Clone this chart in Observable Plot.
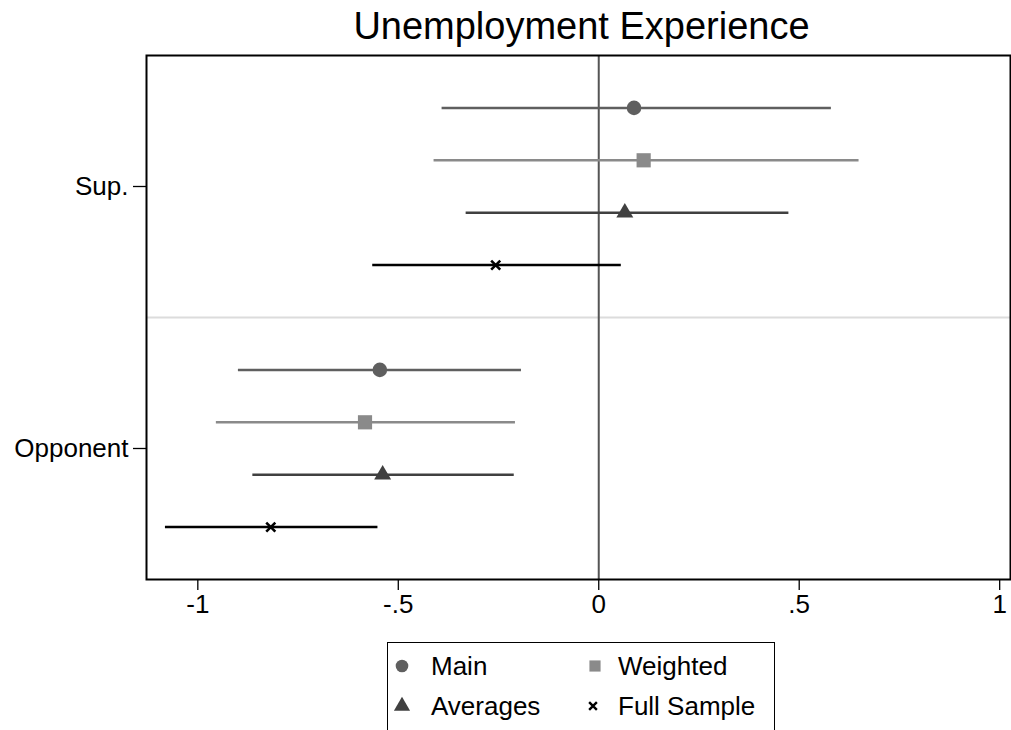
<!DOCTYPE html>
<html>
<head>
<meta charset="utf-8">
<script src="https://cdn.jsdelivr.net/npm/d3@7"></script>
<script src="https://cdn.jsdelivr.net/npm/@observablehq/plot@0.6"></script>
<style>
  html, body { margin: 0; padding: 0; background: #fff; }
  body { width: 1011px; height: 730px; position: relative; overflow: hidden; font-family: "Liberation Sans", Arial, sans-serif; }
  #title { position: absolute; top: 6px; left: 146px; width: 871px; text-align: center; font-size: 38px; color: #000; line-height: 40px; white-space: nowrap; }
  #chart { position: absolute; top: 0; left: 0; }
  #legend { position: absolute; left: 387px; top: 642px; width: 388px; height: 100px; border: 1px solid #000; box-sizing: border-box; }
  .sym { position: absolute; }
  .lab { position: absolute; font-size: 26px; line-height: 30px; color: #000; white-space: nowrap; }
</style>
</head>
<body>
<div id="title">Unemployment Experience</div>
<div id="chart"></div>
<div id="legend"></div>
<script>
// ---- data ----
const groups = ["Sup.", "Opponent"];
const series = ["Main", "Weighted", "Averages", "Full Sample"];
const supEst = [0.088, 0.112, 0.065, -0.257];
const supLo  = [-0.392, -0.412, -0.332, -0.565];
const supHi  = [0.579, 0.648, 0.473, 0.055];
const oppEst = [-0.546, -0.583, -0.539, -0.818];
const oppLo  = [-0.900, -0.955, -0.864, -1.082];
const oppHi  = [-0.194, -0.209, -0.212, -0.552];
const xTicks = [-1, -0.5, 0, 0.5, 1];
const xTickLabels = ["-1", "-.5", "0", ".5", "1"];

// ---- styles ----
const seriesColor = ["#5f5f5f", "#8a8a8a", "#404040", "#000000"];
const seriesSymbol = ["circle", "square", "triangle", "times"];
const seriesR = [7.3, 8, 6.3, 4.2];

// build rows: Sup rows at 0..3, Opponent rows at 5..8 (separator at 4)
const rows = [];
const est = [supEst, oppEst], lo = [supLo, oppLo], hi = [supHi, oppHi];
groups.forEach((g, gi) => {
  series.forEach((s, si) => {
    rows.push({group: g, series: s, si, pos: gi * 5 + si, est: est[gi][si], lo: lo[gi][si], hi: hi[gi][si]});
  });
});
const groupPos = [1.5, 6.5];

const font = "Liberation Sans, Arial, sans-serif";
const marks = [
  Plot.ruleY([4], {stroke: "#dcdcdc", strokeWidth: 2}),
  Plot.ruleX([0], {stroke: "#555", strokeWidth: 2}),
];
series.forEach((s, si) => {
  const d = rows.filter(r => r.si === si);
  marks.push(Plot.link(d, {x1: "lo", x2: "hi", y1: "pos", y2: "pos", stroke: seriesColor[si], strokeWidth: 2.5}));
});
series.forEach((s, si) => {
  const d = rows.filter(r => r.si === si);
  if (seriesSymbol[si] === "times") {
    marks.push(Plot.dot(d, {x: "est", y: "pos", symbol: "times", r: seriesR[si], stroke: seriesColor[si], strokeWidth: 2.6}));
  } else {
    marks.push(Plot.dot(d, {x: "est", y: "pos", symbol: seriesSymbol[si], r: seriesR[si], fill: seriesColor[si], stroke: "none"}));
  }
});
marks.push(
  Plot.axisX({ticks: xTicks, tickFormat: (d) => xTickLabels[xTicks.indexOf(d)], tickSize: 11, tickPadding: 4, fontSize: 26, stroke: "#000", strokeWidth: 1.3, label: null}),
  Plot.axisY({ticks: groupPos, tickFormat: (d) => groups[groupPos.indexOf(d)], tickSize: 13, tickPadding: 5, fontSize: 26, stroke: "#000", strokeWidth: 1.3, label: null}),
  Plot.frame({stroke: "#000", strokeWidth: 2})
);

const chart = Plot.plot({
  width: 1011,
  height: 640,
  marginTop: 55,
  marginLeft: 146,
  marginRight: 1,
  marginBottom: 61,
  style: {fontFamily: font, color: "#000", background: "transparent", fontSize: "26px"},
  x: {domain: [-1.128, 1.027]},
  y: {domain: [-1, 9], reverse: true},
  marks
});
document.getElementById("chart").appendChild(chart);

// ---- legend ----
const legend = document.getElementById("legend");
const symX = [14, 207, 14, 205];
const rowY = [23, 63];
const textX = [43, 230, 43, 230];
const symSizes = [6.3, 6.3, 6, 3.6];
series.forEach((s, si) => {
  const cy = rowY[Math.floor(si / 2)];
  const svg = d3.create("svg").attr("class", "sym").attr("width", 24).attr("height", 24)
    .style("left", (symX[si] - 12) + "px").style("top", (cy - 12) + "px");
  const sym = {circle: d3.symbolCircle, square: d3.symbolSquare, triangle: d3.symbolTriangle, times: d3.symbolTimes}[seriesSymbol[si]];
  const p = svg.append("path")
    .attr("transform", "translate(12,12)")
    .attr("d", d3.symbol(sym, Math.PI * symSizes[si] * symSizes[si])());
  if (seriesSymbol[si] === "times") p.attr("fill", "none").attr("stroke", seriesColor[si]).attr("stroke-width", 2.4);
  else p.attr("fill", seriesColor[si]);
  legend.appendChild(svg.node());
  const t = document.createElement("div");
  t.className = "lab";
  t.style.left = textX[si] + "px";
  t.style.top = (cy - 15) + "px";
  t.textContent = s;
  legend.appendChild(t);
});
</script>
</body>
</html>
